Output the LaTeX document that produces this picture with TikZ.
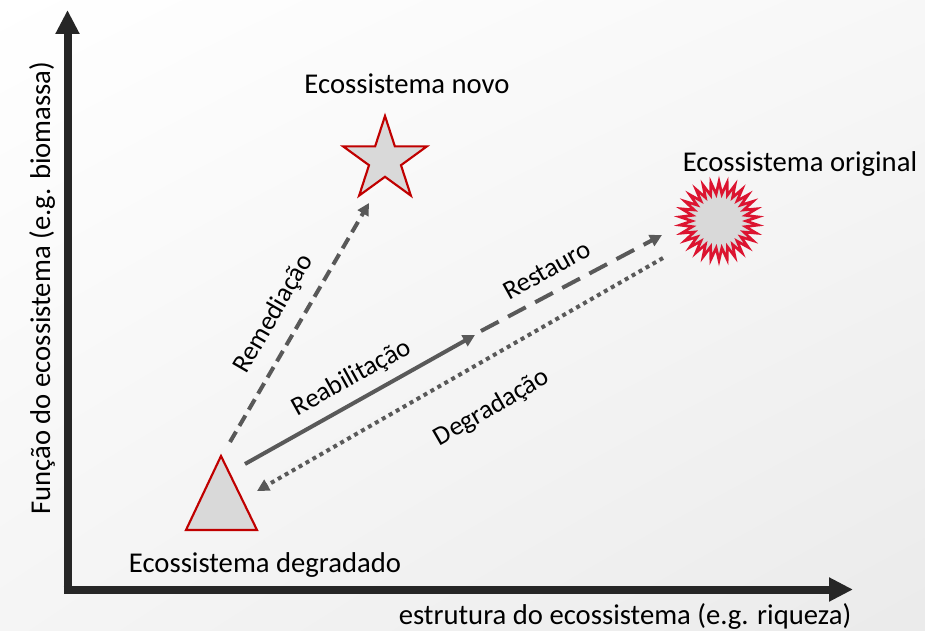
\documentclass[tikz,border=0pt]{standalone}
\usepackage{fontspec}
\setmainfont{Carlito}
\usetikzlibrary{arrows.meta,shapes.geometric,shadings}
\definecolor{axisgray}{HTML}{262626}
\definecolor{arrowgray}{HTML}{595959}
\definecolor{shapefill}{HTML}{D9D9D9}
\definecolor{darkred}{HTML}{C00000}
\definecolor{burstred}{HTML}{DC1430}
\tikzset{
	axisline/.style={line width=6pt, color=axisgray, -{Triangle[length=18pt,width=17pt]}},
	move/.style={line width=3pt, color=arrowgray, -{Triangle[length=9pt,width=9pt]}},
	eco/.style={fill=shapefill, draw=darkred, line width=1.6pt},
	title/.style={font=\fontsize{21.5}{25}\selectfont, inner sep=0pt, anchor=base},
	lbl/.style={font=\fontsize{20}{24}\selectfont, inner sep=0pt},
}

\begin{document}
\begin{tikzpicture}[x=0.75pt, y=-0.75pt]
	%%%%% START %%%%%
	
	\useasboundingbox (0, 0) rectangle (925, 631);
	\shade[upper left=white, upper right=white!97!black, lower left=white!96!black, lower right=white!92!black] (0, 0) rectangle (925, 631);
	
	% axes
	\coordinate (origin) at (67.5, 589.5);
	\coordinate (ytip) at (67.5, 10);
	\coordinate (xtip) at (853, 589.5);
	\draw[axisline] ([yshift=-3pt]origin) -- (ytip);
	\draw[axisline] ([xshift=-3pt]origin) -- (xtip);
	\node[title, rotate=90] (ylabel) at (50, 288) {Função do ecossistema (e.g. biomassa)};
	\node[title] (xlabel) at (625, 624) {estrutura do ecossistema (e.g. riqueza)};
	
	% ecosystems
	\draw[eco] (221, 456) -- (186, 530) -- (257, 530) -- cycle;
	\node[title] (degr) at (265, 572) {Ecossistema degradado};
	
	\node[eco, star, star points=5, star point ratio=2.618, minimum size=66pt, inner sep=0pt] (novo) at (385, 160) {};
	\node[title] (novolabel) at (407, 94) {Ecossistema novo};
	
	\node[star, star points=30, star point ratio=1.45, minimum size=59pt, inner sep=0pt, fill=shapefill, draw=burstred, line width=2pt] (orig) at (719, 221) {};
	\node[title] (origlabel) at (800, 172) {Ecossistema original};
	
	% trajectories
	\coordinate (remA) at (230, 442);
	\coordinate (remB) at (369, 203);
	\coordinate (reaA) at (245, 464);
	\coordinate (reaB) at (475, 335);
	\coordinate (resA) at (481, 331);
	\coordinate (resB) at (662, 235);
	\coordinate (degA) at (663, 258);
	\coordinate (degB) at (257, 491);
	
	\draw[move, dash pattern=on 9pt off 5pt] (remA) -- (remB);
	\draw[move] (reaA) -- (reaB);
	\draw[move, dash pattern=on 15pt off 8pt] (resA) -- (resB);
	\draw[move, dash pattern=on 3pt off 3pt] (degA) -- (degB);
	
	\node[lbl, rotate=60] (remlabel) at (274, 314) {Remediação};
	\node[lbl, rotate=29] (realabel) at (352, 378) {Reabilitação};
	\node[lbl, rotate=29] (reslabel) at (547, 270) {Restauro};
	\node[lbl, rotate=30] (deglabel) at (492, 408) {Degradação};
	
	%%%%% END %%%%%
\end{tikzpicture}
\end{document}
